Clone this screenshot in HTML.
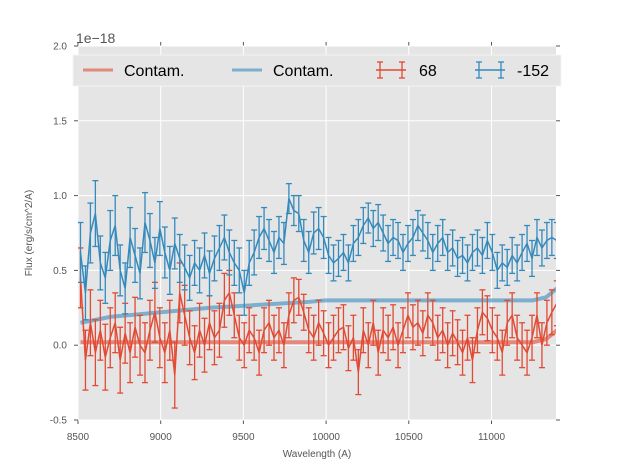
<!DOCTYPE html>
<html><head><meta charset="utf-8"><style>
body{margin:0;background:#fff;}
svg{display:block;font-family:"Liberation Sans","DejaVu Sans",sans-serif;}
</style></head><body>
<svg id="chart" width="617" height="467" viewBox="0 0 617 467"></svg>
<script>
const wave0 = 8515, waveStep = 30;
const blueFlux = [0.62,0.35,0.75,0.88,0.55,0.45,0.7,0.8,0.5,0.38,0.72,0.6,0.48,0.82,0.7,0.55,0.78,0.62,0.5,0.68,0.58,0.52,0.45,0.55,0.5,0.6,0.48,0.58,0.65,0.72,0.62,0.55,0.5,0.35,0.55,0.62,0.72,0.78,0.7,0.62,0.72,0.68,0.98,0.9,0.88,0.7,0.62,0.75,0.78,0.72,0.6,0.55,0.58,0.62,0.55,0.68,0.72,0.8,0.85,0.78,0.82,0.75,0.68,0.72,0.7,0.62,0.68,0.72,0.8,0.75,0.7,0.62,0.68,0.72,0.62,0.65,0.58,0.6,0.55,0.62,0.65,0.6,0.7,0.62,0.5,0.55,0.52,0.6,0.55,0.62,0.68,0.58,0.72,0.65,0.7,0.72,0.7];
const blueErr = [0.2,0.18,0.2,0.22,0.18,0.17,0.2,0.2,0.17,0.17,0.2,0.18,0.17,0.2,0.18,0.17,0.18,0.17,0.16,0.17,0.16,0.15,0.15,0.15,0.15,0.15,0.15,0.15,0.15,0.15,0.15,0.15,0.15,0.15,0.15,0.15,0.14,0.14,0.14,0.14,0.14,0.14,0.1,0.1,0.12,0.14,0.14,0.14,0.14,0.14,0.12,0.12,0.12,0.12,0.12,0.12,0.12,0.12,0.1,0.12,0.12,0.12,0.12,0.12,0.12,0.12,0.12,0.12,0.1,0.12,0.12,0.12,0.12,0.12,0.12,0.12,0.12,0.12,0.12,0.12,0.12,0.12,0.12,0.12,0.12,0.12,0.12,0.12,0.12,0.12,0.12,0.12,0.12,0.12,0.12,0.12,0.12];
const redFlux = [0.45,-0.1,0.15,-0.05,0.1,-0.08,0.05,0.15,-0.1,0.08,-0.05,0.12,0.0,-0.05,0.1,0.22,0.05,-0.05,0.1,-0.2,0.35,0.2,0.05,-0.05,0.1,0.0,0.15,0.05,0.1,0.3,0.35,0.2,0.05,0.0,0.1,0.05,-0.05,0.1,0.15,0.05,0.1,0.0,0.2,0.3,0.32,0.22,0.1,0.05,0.15,0.08,0.0,0.05,0.1,0.12,-0.02,0.05,-0.18,0.1,0.0,0.15,-0.05,0.1,0.05,0.12,0.0,0.1,0.2,0.12,0.15,0.08,0.2,0.15,0.05,0.1,0.0,0.08,0.02,-0.05,0.05,-0.1,0.1,0.22,0.18,0.1,0.05,-0.05,0.15,0.2,0.05,0.0,-0.05,0.05,0.2,0.0,0.15,0.22,0.28];
const redErr = [0.2,0.2,0.22,0.22,0.2,0.22,0.2,0.2,0.22,0.2,0.2,0.2,0.2,0.2,0.2,0.2,0.2,0.2,0.2,0.22,0.2,0.2,0.18,0.18,0.18,0.18,0.18,0.18,0.18,0.18,0.15,0.15,0.15,0.15,0.15,0.15,0.15,0.15,0.15,0.15,0.15,0.15,0.15,0.15,0.12,0.12,0.15,0.15,0.15,0.15,0.15,0.15,0.15,0.15,0.15,0.15,0.15,0.15,0.15,0.15,0.15,0.15,0.15,0.15,0.15,0.15,0.15,0.15,0.15,0.15,0.15,0.15,0.15,0.15,0.15,0.15,0.15,0.15,0.15,0.15,0.15,0.15,0.15,0.15,0.15,0.15,0.15,0.15,0.15,0.15,0.15,0.15,0.15,0.15,0.15,0.15,0.15];
const contamWave = [8515,8700,9000,9300,9600,9900,10000,10500,11000,11250,11330,11395];
const blueContam = [0.15,0.19,0.22,0.25,0.27,0.29,0.3,0.3,0.3,0.3,0.32,0.38];
const redContam = [0.02,0.02,0.02,0.02,0.02,0.02,0.02,0.02,0.02,0.02,0.04,0.1];
const xTicks = [8500,9000,9500,10000,10500,11000];
const yTicks = [-0.5,0.0,0.5,1.0,1.5,2.0];

const L=78,R=556,T=46,B=420, XMIN=8500,XMAX=11390,YMIN=-0.5,YMAX=2.0;
const X=v=>L+(v-XMIN)/(XMAX-XMIN)*(R-L);
const Y=v=>B-(v-YMIN)/(YMAX-YMIN)*(B-T);
const svg=document.getElementById('chart');
const NS='http://www.w3.org/2000/svg';
function mk(tag,attrs,parent){const e=document.createElementNS(NS,tag);for(const k in attrs)e.setAttribute(k,attrs[k]);(parent||svg).appendChild(e);return e;}

const defs=mk('defs',{});
const cp=mk('clipPath',{id:'plotclip'},defs);
mk('rect',{x:L,y:T,width:R-L,height:B-T},cp);

const bg=mk('rect',{x:L,y:T,width:R-L,height:B-T,fill:'#e5e5e5'});


xTicks.forEach(t=>{
  const g=mk('line',{x1:X(t),x2:X(t),y1:T,y2:B,stroke:'#fff','stroke-width':1});
  
  
  mk('line',{x1:X(t),x2:X(t),y1:B,y2:B+4,stroke:'#555'});
  mk('line',{x1:X(t),x2:X(t),y1:T,y2:T-4,stroke:'#555'});
  const tx=mk('text',{x:X(t),y:B+20,'text-anchor':'middle','font-size':10,fill:'#555'});
  tx.textContent=t;
  
  
});
yTicks.forEach(t=>{
  const g=mk('line',{x1:L,x2:R,y1:Y(t),y2:Y(t),stroke:'#fff','stroke-width':1});
  
  
  mk('line',{x1:L-4,x2:L,y1:Y(t),y2:Y(t),stroke:'#555'});
  mk('line',{x1:R,x2:R+4,y1:Y(t),y2:Y(t),stroke:'#555'});
  const tx=mk('text',{x:L-11,y:Y(t)+3.5,'text-anchor':'end','font-size':10,fill:'#555'});
  tx.textContent=t.toFixed(1);
  
  
});

const plot=mk('g',{'clip-path':'url(#plotclip)'});
function contam(vals,color,name){
  const p=mk('polyline',{points:contamWave.map((w,i)=>X(w)+','+Y(vals[i])).join(' '),fill:'none',stroke:color,'stroke-width':4,'stroke-opacity':0.6},plot);
  
  
}
function errSeries(vals,errs,color,name){
  const g=mk('g',{stroke:color,'stroke-width':1.3,fill:'none'},plot);
  
  
  vals.forEach((v,i)=>{
    const x=X(wave0+i*waveStep),y1=Y(v-errs[i]),y2=Y(v+errs[i]);
    mk('line',{x1:x,x2:x,y1:y1,y2:y2},g);
    mk('line',{x1:x-3,x2:x+3,y1:y1,y2:y1},g);
    mk('line',{x1:x-3,x2:x+3,y1:y2,y2:y2},g);
  });
  mk('polyline',{points:vals.map((v,i)=>X(wave0+i*waveStep)+','+Y(v)).join(' '),'stroke-width':1.5},g);
}
contam(redContam,'#e24a33','red-contam-line');
contam(blueContam,'#348abd','blue-contam-line');
errSeries(redFlux,redErr,'#e24a33','series-68');
errSeries(blueFlux,blueErr,'#348abd','series-minus-152');

const xl=mk('text',{x:(L+R)/2,y:457,'text-anchor':'middle','font-size':10,fill:'#555'});
xl.textContent='Wavelength (A)';


const yl=mk('text',{x:32,y:(T+B)/2,'text-anchor':'middle','font-size':10,fill:'#555',transform:'rotate(-90 32 '+((T+B)/2)+')'});
yl.textContent='Flux (erg/s/cm^2/A)';


const off=mk('text',{x:76,y:43,'font-size':14,fill:'#555'});
off.textContent='1e\u221218';



const lg=mk('g',{});


mk('rect',{x:73,y:55,width:488,height:31,fill:'#e5e5e5',stroke:'#f4f4f4','stroke-width':1},lg);
const entries=[['Contam.','#e24a33',83,124,'line'],['Contam.','#348abd',232,273,'line'],['68','#e24a33',376,419,'err'],['-152','#348abd',475,517,'err']];
entries.forEach(e=>{
  const g=mk('g',{},lg);
  
  
  if(e[4]==='line'){mk('line',{x1:e[2],x2:e[2]+30,y1:70,y2:70,stroke:e[1],'stroke-width':3,'stroke-opacity':0.6},g);}
  else{
    mk('line',{x1:e[2],x2:e[2]+30,y1:70,y2:70,stroke:e[1],'stroke-width':1.5},g);
    [e[2]+4,e[2]+26].forEach(x=>{mk('line',{x1:x,x2:x,y1:62,y2:78,stroke:e[1],'stroke-width':1.3},g);mk('line',{x1:x-3,x2:x+3,y1:62,y2:62,stroke:e[1],'stroke-width':1.3},g);mk('line',{x1:x-3,x2:x+3,y1:78,y2:78,stroke:e[1],'stroke-width':1.3},g);});
  }
  const t=mk('text',{x:e[3],y:76,'font-size':16,fill:'#000'},g);
  t.textContent=e[0];
});
</script>
</body></html>
